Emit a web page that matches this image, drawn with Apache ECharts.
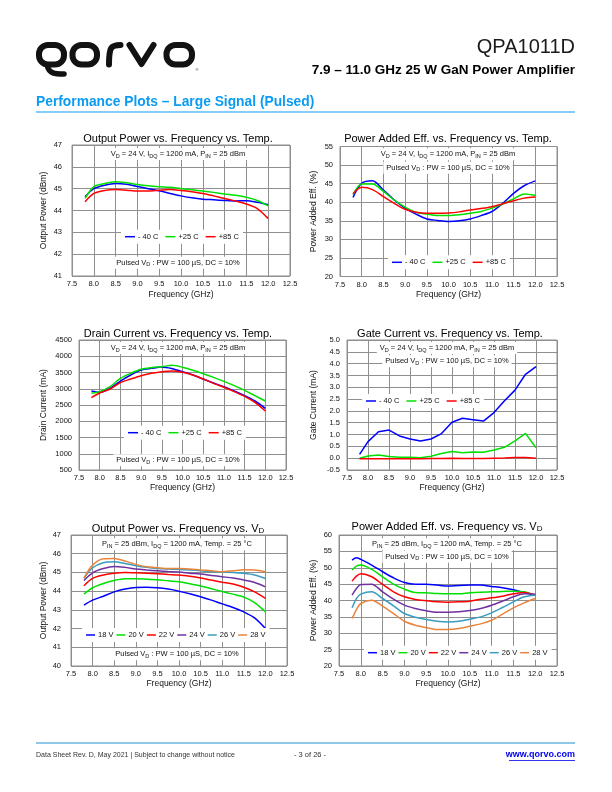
<!DOCTYPE html>
<html><head><meta charset="utf-8">
<script src="https://cdn.jsdelivr.net/npm/echarts@6/dist/echarts.min.js"></script>
<style>html,body{margin:0;padding:0;background:#fff}#c{width:612px;height:792px}</style>
</head><body><div id="c"></div>
<script>
// ---------- DATA ----------
const freq = [7.8, 8.0, 8.25, 8.5, 8.75, 9.0, 9.25, 9.5, 9.75, 10.0, 10.25, 10.5, 10.75, 11.0, 11.25, 11.5, 11.75, 12.0];
const freqPaeVd = [7.8, 7.9, 8.0, 8.25, 8.5, 8.75, 9.0, 9.25, 9.5, 9.75, 10.0, 10.25, 10.5, 10.75, 11.0, 11.25, 11.5, 11.75, 12.0];
const xTicks = [7.5, 8.0, 8.5, 9.0, 9.5, 10.0, 10.5, 11.0, 11.5, 12.0, 12.5];

const tempNames = ['- 40 C', '+25 C', '+85 C'];
const vdNames = ['18 V', '20 V', '22 V', '24 V', '26 V', '28 V'];

// Output Power vs Temp (dBm)
const poutM40 = [44.63, 45.0, 45.16, 45.24, 45.2, 45.1, 45.0, 44.9, 44.78, 44.67, 44.58, 44.52, 44.49, 44.46, 44.44, 44.45, 44.38, 44.27];
const poutP25 = [44.55, 45.09, 45.24, 45.32, 45.27, 45.19, 45.13, 45.09, 45.06, 45.0, 44.95, 44.89, 44.83, 44.76, 44.7, 44.61, 44.46, 44.21];
const poutP85 = [44.4, 44.78, 44.92, 44.96, 44.93, 44.89, 44.89, 44.93, 44.96, 44.92, 44.86, 44.78, 44.67, 44.55, 44.43, 44.3, 44.09, 43.63];

// PAE vs Temp (%)
const paeM40 = [41.3, 45.1, 45.75, 43.3, 40.6, 38.4, 36.8, 35.5, 35.1, 34.8, 35.0, 35.5, 36.4, 37.5, 39.7, 42.4, 44.5, 45.75];
const paeP25 = [42.0, 44.9, 44.9, 42.9, 40.6, 38.7, 37.3, 36.8, 36.4, 36.4, 36.6, 37.0, 37.5, 38.4, 39.5, 40.9, 42.2, 41.8];
const paeP85 = [42.3, 44.0, 43.4, 41.5, 39.7, 38.1, 37.3, 37.0, 37.0, 37.1, 37.4, 37.9, 38.3, 38.8, 39.6, 40.4, 41.1, 41.4];

// Drain Current vs Temp (mA)
const idM40 = [2931, 2890, 3013, 3238, 3423, 3577, 3628, 3669, 3618, 3526, 3423, 3300, 3177, 3064, 2931, 2787, 2623, 2397];
const idP25 = [2859, 2910, 3064, 3320, 3474, 3597, 3649, 3679, 3720, 3659, 3567, 3464, 3351, 3228, 3095, 2951, 2787, 2623];
const idP85 = [2726, 2869, 2992, 3187, 3300, 3403, 3474, 3526, 3546, 3505, 3423, 3300, 3167, 3044, 2910, 2767, 2582, 2315];

// Gate Current vs Temp (mA)
const igM40 = [0.16, 0.70, 1.12, 1.19, 0.94, 0.81, 0.73, 0.81, 1.04, 1.52, 1.69, 1.63, 1.57, 1.93, 2.43, 2.88, 3.55, 3.87];
const igP25 = [0.0, 0.09, 0.13, 0.07, 0.04, 0.04, 0.02, 0.08, 0.20, 0.28, 0.23, 0.26, 0.25, 0.35, 0.46, 0.73, 1.05, 0.44];
const igP85 = [-0.02, -0.02, -0.02, -0.02, -0.02, -0.02, -0.02, -0.01, -0.01, 0.0, -0.01, -0.01, -0.01, 0.0, 0.01, 0.03, 0.03, 0.0];

// Output Power vs VD (dBm)
const pout18 = [43.25, 43.52, 43.73, 43.96, 44.11, 44.2, 44.21, 44.18, 44.11, 44.0, 43.86, 43.7, 43.52, 43.32, 43.13, 42.89, 42.57, 42.0];
const pout20 = [43.84, 44.18, 44.41, 44.57, 44.66, 44.66, 44.64, 44.61, 44.55, 44.5, 44.39, 44.27, 44.13, 43.98, 43.84, 43.68, 43.39, 42.89];
const pout22 = [44.29, 44.68, 44.86, 44.96, 45.0, 44.98, 44.96, 44.93, 44.89, 44.86, 44.79, 44.7, 44.59, 44.48, 44.38, 44.21, 43.96, 43.61];
const pout24 = [44.57, 44.98, 45.21, 45.32, 45.27, 45.18, 45.13, 45.09, 45.05, 45.02, 44.96, 44.91, 44.84, 44.77, 44.7, 44.59, 44.46, 44.23];
const pout26 = [44.68, 45.25, 45.52, 45.57, 45.48, 45.36, 45.27, 45.21, 45.18, 45.16, 45.13, 45.09, 45.05, 45.02, 45.0, 44.95, 44.86, 44.68];
const pout28 = [44.71, 45.39, 45.73, 45.75, 45.61, 45.43, 45.3, 45.25, 45.21, 45.21, 45.18, 45.13, 45.09, 45.04, 45.09, 45.14, 45.13, 45.04];

// PAE vs VD (%)
const pae18 = [52.35, 53.06, 52.55, 50.82, 48.78, 46.94, 45.51, 45.0, 45.0, 44.7, 44.39, 44.6, 44.7, 44.7, 44.29, 43.88, 43.27, 42.45, 41.63];
const pae20 = [49.29, 50.5, 50.82, 49.49, 47.24, 45.0, 43.47, 42.45, 42.35, 42.14, 42.04, 42.04, 42.35, 42.55, 42.65, 42.76, 42.86, 42.65, 41.63];
const pae22 = [45.92, 47.45, 48.16, 47.24, 44.9, 42.65, 41.12, 40.31, 39.9, 39.59, 39.49, 39.59, 39.8, 40.41, 40.82, 41.33, 42.04, 42.45, 41.63];
const pae24 = [41.63, 43.67, 44.9, 45.0, 42.65, 40.41, 38.57, 37.55, 36.84, 36.43, 36.43, 36.53, 36.94, 37.55, 38.57, 39.8, 41.12, 42.04, 41.94];
const pae26 = [37.76, 40.6, 41.94, 42.65, 40.61, 38.37, 36.02, 34.9, 34.18, 33.67, 33.47, 33.67, 34.29, 35.0, 36.22, 37.86, 39.59, 41.12, 41.63];
const pae28 = [34.49, 37.24, 39.08, 40.1, 38.27, 36.02, 33.67, 32.45, 31.73, 31.12, 31.12, 31.43, 32.14, 32.86, 33.98, 35.82, 37.76, 39.29, 40.61];

// y-axis ranges [min, max, interval]
const yPoutT = [41, 47, 1];
const yPaeT = [20, 55, 5];
const yId = [500, 4500, 500];
const yIg = [-0.5, 5.0, 0.5];
const yPoutV = [40, 47, 1];
const yPaeV = [20, 60, 5];

// ---------- STYLE ----------
const FONT = 'Liberation Sans, Arial, sans-serif';
const tempColors = ['#0000ff', '#00e000', '#ff0000'];
const vdColors = ['#0000ff', '#00e000', '#ff0000', '#7030a0', '#3a9cbf', '#e8843c'];
const gridColor = '#8f8f8f';

const grids = [
  {left: 72, top: 145, width: 218, height: 131},
  {left: 340, top: 146.5, width: 217, height: 130},
  {left: 79, top: 340, width: 207, height: 130},
  {left: 347, top: 340, width: 210, height: 130},
  {left: 71, top: 535, width: 216, height: 131},
  {left: 339, top: 535, width: 218, height: 131}
].map(g => Object.assign({show: true, borderColor: gridColor, borderWidth: 1, backgroundColor: '#fff', outerBoundsMode: 'none', containLabel: false}, g));

const yDefs = [
  {r: yPoutT, dec: 0, name: 'Output Power (dBm)', margin: 10, gap: 23.5},
  {r: yPaeT, dec: 0, name: 'Power Added Eff. (%)', margin: 7, gap: 22},
  {r: yId, dec: 0, name: 'Drain Current (mA)', margin: 7, gap: 31},
  {r: yIg, dec: 1, name: 'Gate Current (mA)', margin: 7, gap: 29},
  {r: yPoutV, dec: 0, name: 'Output Power (dBm)', margin: 10, gap: 22.5},
  {r: yPaeV, dec: 0, name: 'Power Added Eff. (%)', margin: 7, gap: 21}
];
const xNameGap = [14.5, 13.5, 13.5, 13.5, 13, 13];

const xAxis = grids.map((g, i) => ({
  type: 'value', gridIndex: i, min: xTicks[0], max: xTicks[xTicks.length - 1], interval: 0.5,
  axisLine: {show: false}, axisTick: {show: false},
  splitLine: {show: true, lineStyle: {color: gridColor, width: 1}},
  axisLabel: {fontSize: 7.5, color: '#111', fontFamily: FONT, margin: 4, formatter: v => v.toFixed(1), showMinLabel: true, showMaxLabel: true},
  name: 'Frequency (GHz)', nameLocation: 'middle', nameGap: xNameGap[i],
  nameTextStyle: {fontSize: 8.5, color: '#111', fontFamily: FONT}
}));
const yAxis = yDefs.map((d, i) => ({
  type: 'value', gridIndex: i, min: d.r[0], max: d.r[1], interval: d.r[2],
  axisLine: {show: false}, axisTick: {show: false},
  splitLine: {show: true, lineStyle: {color: gridColor, width: 1}},
  axisLabel: {fontSize: 7.5, color: '#111', fontFamily: FONT, margin: d.margin, formatter: v => v.toFixed(d.dec), showMinLabel: true, showMaxLabel: true},
  name: d.name, nameLocation: 'middle', nameGap: d.gap,
  nameTextStyle: {fontSize: 8.5, color: '#111', fontFamily: FONT}
}));

function mk(i, name, color, xs, ys, smooth) {
  return {
    type: 'line', name: name, xAxisIndex: i, yAxisIndex: i,
    data: xs.map((x, k) => [x, ys[k]]),
    showSymbol: false, symbol: 'none', smooth: smooth === false ? false : 0.3,
    lineStyle: {color: color, width: 1.5}, itemStyle: {color: color},
    emphasis: {disabled: true}, silent: true
  };
}
const series = [];
[[poutM40, poutP25, poutP85], [paeM40, paeP25, paeP85], [idM40, idP25, idP85], [igM40, igP25, igP85]].forEach((set, i) => {
  set.forEach((ys, k) => series.push(mk(i, tempNames[k], tempColors[k], freq, ys, i === 3 ? false : true)));
});
[pout18, pout20, pout22, pout24, pout26, pout28].forEach((ys, k) => series.push(mk(4, vdNames[k], vdColors[k], freq, ys, true)));
[pae18, pae20, pae22, pae24, pae26, pae28].forEach((ys, k) => series.push(mk(5, vdNames[k], vdColors[k], freqPaeVd, ys, true)));

// legends
function lg(names, left, cy, fs, gap, iw) {
  return {
    data: names, left: left, top: cy - 7, orient: 'horizontal', icon: 'rect',
    itemWidth: iw, itemHeight: 1.5, itemGap: gap, padding: [3, 4], backgroundColor: '#fff',
    selectedMode: false, inactiveColor: '#000',
    textStyle: {fontSize: fs, color: '#111', fontFamily: FONT, padding: [0, 0, 0, -2]}
  };
}
const legend = [
  lg(tempNames, 121, 236.7, 7.5, 7, 10),
  lg(tempNames, 388, 262.3, 7.5, 7, 10),
  lg(tempNames, 124, 432.7, 7.5, 7, 10),
  lg(tempNames, 362, 401, 7.5, 7, 10),
  lg(vdNames, 82, 635, 7.5, 3, 9),
  lg(vdNames, 364, 652.7, 7.5, 3, 9)
];

// chart titles
const rich = {
  n: {fontSize: 7.5, fontFamily: FONT, color: '#111', lineHeight: 10},
  s: {fontSize: 5.5, fontFamily: FONT, color: '#111', lineHeight: 6, verticalAlign: 'bottom'},
  t: {fontSize: 11, fontFamily: FONT, color: '#000', lineHeight: 13},
  ts: {fontSize: 8, fontFamily: FONT, color: '#000', lineHeight: 8, verticalAlign: 'bottom'}
};
function ttl(text, cx, cy) {
  return {text: text, left: cx, top: cy - 7, textAlign: 'center', padding: 0, itemGap: 0,
    textStyle: {fontSize: 11, fontWeight: 'normal', color: '#000', fontFamily: FONT, rich: rich}};
}
const title = [
  ttl('{t|Output Power vs. Frequency vs. Temp.}', 178, 139),
  ttl('{t|Power Added Eff. vs. Frequency vs. Temp.}', 448, 139),
  ttl('{t|Drain Current vs. Frequency vs. Temp.}', 178, 334),
  ttl('{t|Gate Current vs. Frequency vs. Temp.}', 450, 334),
  ttl('{t|Output Power vs. Frequency vs. V}{ts|D}', 178, 529),
  ttl('{t|Power Added Eff. vs. Frequency vs. V}{ts|D}', 447, 527)
];

const condT = '{n|V}{s|D}{n| = 24 V, I}{s|DQ}{n| = 1200 mA, P}{s|IN}{n| = 25 dBm}';
const condV = '{n|P}{s|IN}{n| = 25 dBm, I}{s|DQ}{n| = 1200 mA, Temp. = 25 °C}';
const pulsed = '{n|Pulsed V}{s|D}{n| : PW = 100 µS, DC = 10%}';
function note(text, cx, cy) {
  return {type: 'text', x: cx, y: cy, z: 50,
    style: {text: text, rich: rich, align: 'center', verticalAlign: 'middle', backgroundColor: '#fff', padding: [1, 3], fontFamily: FONT, fontSize: 7.5, fill: '#111'}};
}
function txt(text, x, y, o) {
  return {type: 'text', x: x, y: y, z: 50, style: Object.assign({text: text, fontFamily: FONT, fill: '#111', verticalAlign: 'middle'}, o)};
}
const K = '#121212';
const logo = [
  {type: 'rect', shape: {x: 39, y: 45, width: 25, height: 19.5, r: 9}, style: {fill: 'none', stroke: K, lineWidth: 6}},
  {type: 'bezierCurve', shape: {x1: 47, y1: 65, cpx1: 49, cpy1: 74, cpx2: 55, cpy2: 74, x2: 64, y2: 74}, style: {fill: 'none', stroke: K, lineWidth: 5.5, lineCap: 'round'}},
  {type: 'rect', shape: {x: 72.5, y: 45, width: 24.5, height: 19.5, r: 9}, style: {fill: 'none', stroke: K, lineWidth: 6}},
  {type: 'bezierCurve', shape: {x1: 109, y1: 64.5, cpx1: 109, cpy1: 47, cpx2: 111, cpy2: 45, x2: 120.5, y2: 45}, style: {fill: 'none', stroke: K, lineWidth: 6, lineCap: 'round'}},
  {type: 'polyline', shape: {points: [[129.5, 45], [141.5, 64], [153.5, 45]]}, style: {fill: 'none', stroke: K, lineWidth: 6, lineCap: 'round', lineJoin: 'round'}},
  {type: 'rect', shape: {x: 166.5, y: 45, width: 25.5, height: 19.5, r: 9}, style: {fill: 'none', stroke: K, lineWidth: 6}},
  txt('®', 197, 70, {fontSize: 4, align: 'center'})
];
const graphic = logo.concat([
  txt('QPA1011D', 575, 47, {fontSize: 20, align: 'right', fill: '#1a1a1a'}),
  txt('7.9 – 11.0 GHz 25 W GaN Power Amplifier', 575, 70, {fontSize: 13.5, fontWeight: 'bold', align: 'right', fill: '#000'}),
  txt('Performance Plots – Large Signal (Pulsed)', 36, 102, {fontSize: 13.8, fontWeight: 'bold', align: 'left', fill: '#0b9bf2'}),
  {type: 'line', shape: {x1: 36, y1: 112, x2: 575, y2: 112}, style: {stroke: '#0b9bf2', lineWidth: 1.2}},
  {type: 'line', shape: {x1: 36, y1: 743, x2: 575, y2: 743}, style: {stroke: '#1f8fcf', lineWidth: 1.2}},
  txt('Data Sheet Rev. D, May 2021 | Subject to change without notice', 36, 755, {fontSize: 7, align: 'left', fill: '#333'}),
  txt('- 3 of 26 -', 310, 755, {fontSize: 7.5, align: 'center', fill: '#333'}),
  txt('www.qorvo.com', 575, 755, {fontSize: 9, fontWeight: 'bold', align: 'right', fill: '#0000ee'}),
  {type: 'line', shape: {x1: 509, y1: 760.5, x2: 575, y2: 760.5}, style: {stroke: '#0000ee', lineWidth: 0.8}},
  note(condT, 178, 154),
  note(pulsed, 178, 262.7),
  note(condT, 448, 154.3),
  note(pulsed, 448, 167.7),
  note(condT, 178, 348),
  note(pulsed, 178, 460.3),
  note(condT, 447, 348),
  note(pulsed, 447, 361.3),
  note(condV, 177, 544.3),
  note(pulsed, 177, 654.3),
  note(condV, 447, 544.3),
  note(pulsed, 447, 556.7)
]);

const chart = echarts.init(document.getElementById('c'), null, {renderer: 'canvas'});
chart.setOption({
  animation: false,
  backgroundColor: '#fff',
  textStyle: {fontFamily: FONT},
  title: title,
  grid: grids,
  xAxis: xAxis,
  yAxis: yAxis,
  legend: legend,
  series: series,
  graphic: graphic
});
</script></body></html>
